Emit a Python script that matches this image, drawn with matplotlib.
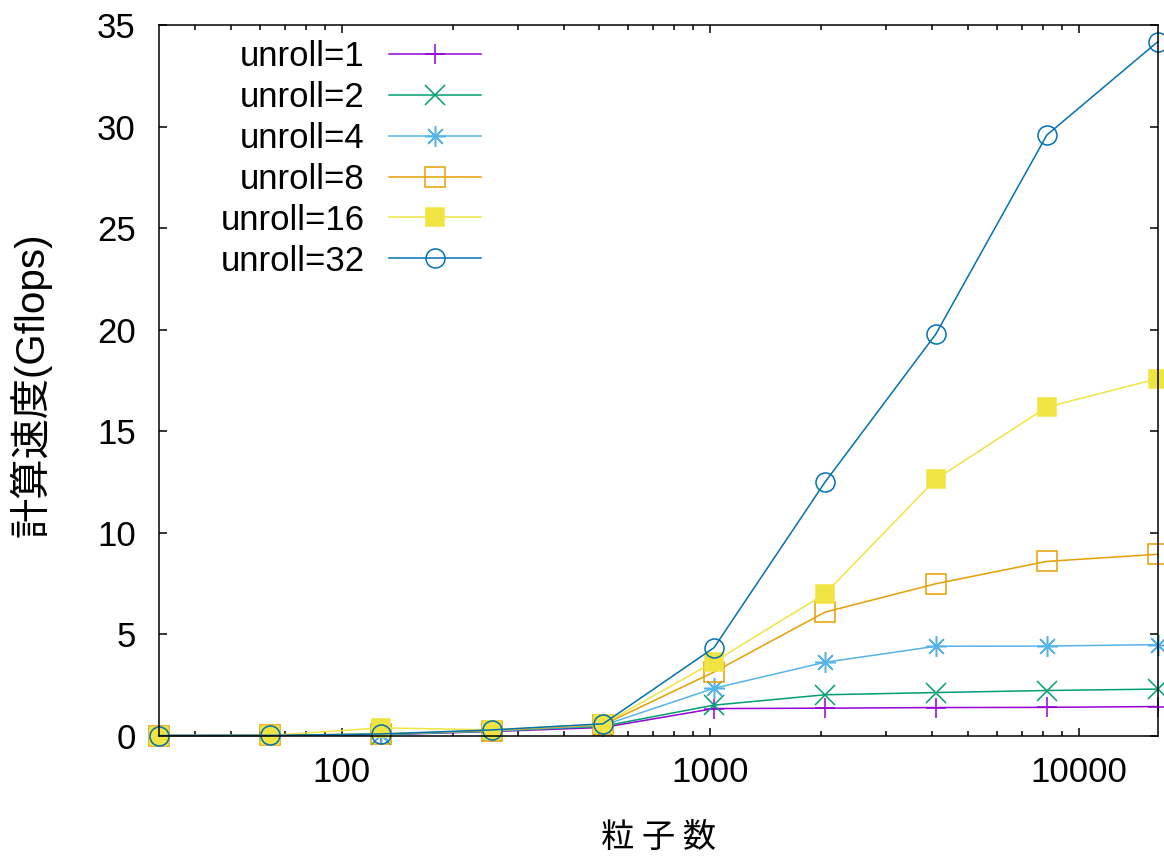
import matplotlib
matplotlib.use('Agg')
import matplotlib.pyplot as plt
import matplotlib.ticker as ticker

plt.rcParams['font.family'] = ['Liberation Sans', 'Noto Sans CJK JP']

# Data
particles = [32, 64, 128, 256, 512, 1024, 2048, 4096, 8192, 16384]
unroll_1 = [0.02, 0.03, 0.06, 0.22, 0.42, 1.35, 1.37, 1.40, 1.41, 1.45]
unroll_2 = [0.02, 0.03, 0.07, 0.24, 0.48, 1.52, 2.03, 2.14, 2.24, 2.31]
unroll_4 = [0.02, 0.03, 0.08, 0.25, 0.52, 2.35, 3.63, 4.42, 4.43, 4.50]
unroll_8 = [0.02, 0.03, 0.10, 0.27, 0.55, 3.15, 6.10, 7.50, 8.60, 8.95]
unroll_16 = [0.02, 0.03, 0.40, 0.30, 0.58, 3.65, 7.00, 12.65, 16.20, 17.60]
unroll_32 = [0.02, 0.03, 0.10, 0.30, 0.60, 4.35, 12.50, 19.80, 29.60, 34.20]

labels = ['unroll=1', 'unroll=2', 'unroll=4', 'unroll=8', 'unroll=16', 'unroll=32']
series = [unroll_1, unroll_2, unroll_4, unroll_8, unroll_16, unroll_32]

# gnuplot default colours / point types
colors = ['#9400d3', '#009e73', '#56b4e9', '#e69f00', '#f0e442', '#0072b2']
markers = ['+', 'x', (8, 2, 0), 's', 's', 'o']
filled = [True, True, True, False, True, False]
msizes = [14, 14, 15, 13.7, 13.2, 13.7]

fig = plt.figure(figsize=(11.64, 8.61), dpi=100)
ax = fig.add_axes([0.1369, 0.1452, 0.8577, 0.8252])

for ys, lab, c, m, f, ms in zip(series, labels, colors, markers, filled, msizes):
    ax.plot(particles, ys, color=c, lw=1.1, marker=m, markersize=ms,
            markeredgewidth=1.1, markeredgecolor=c,
            markerfacecolor=c if f else 'none', label=lab, clip_on=False)

ax.set_xscale('log')
ax.set_xlim(32, 16384)
ax.set_ylim(0, 35)
ax.set_yticks(range(0, 36, 5))
ax.xaxis.set_major_formatter(ticker.FuncFormatter(lambda v, p: f'{v:g}'))
ax.xaxis.set_minor_formatter(ticker.NullFormatter())

ax.tick_params(which='both', direction='in', top=True, right=True,
               width=1.1, colors='black')
ax.tick_params(which='major', length=6, labelsize=25)
ax.tick_params(which='minor', length=3.5)
ax.tick_params(axis='x', which='major', pad=14.5)
ax.tick_params(axis='y', which='major', pad=17)
for s in ax.spines.values():
    s.set_linewidth(1.1)

ax.set_xlabel('粒 子 数', fontsize=24, family=['Noto Sans CJK JP'])
ax.xaxis.set_label_coords(0.5, -0.118)
ax.set_ylabel('計算速度(Gflops)', fontsize=29)
ax.yaxis.set_label_coords(-0.108, 0.495)

ax.legend(loc='upper right', bbox_to_anchor=(0.322, 0.98), frameon=False,
          markerfirst=False, numpoints=1, fontsize=25, handlelength=2.65,
          handletextpad=0.69, labelspacing=0.23, borderpad=0, borderaxespad=0)

fig.savefig('out.png', dpi=100, facecolor='white')
